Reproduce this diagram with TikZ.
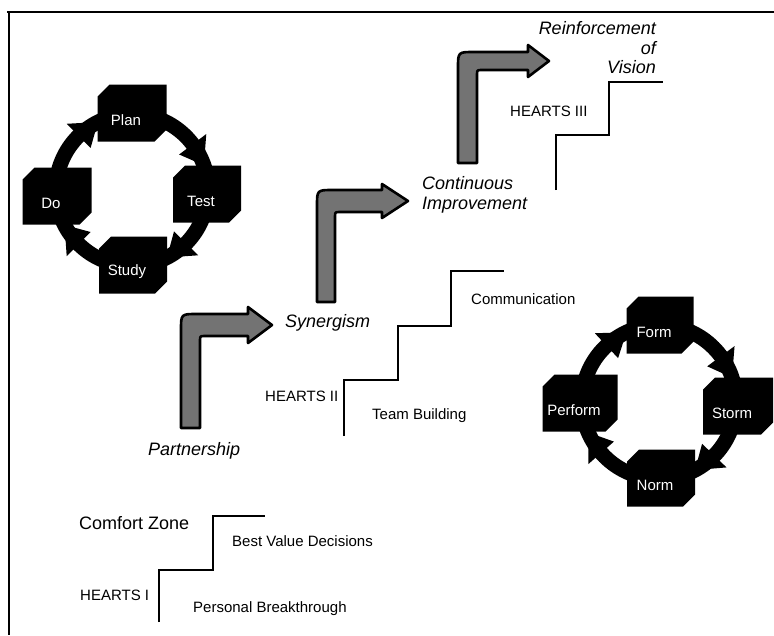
\documentclass[tikz,border=0pt]{standalone}
\usepackage{fontspec}
\setmainfont{Liberation Sans}
\usetikzlibrary{calc}
\newcommand\lblfont{\fontsize{15}{18}\selectfont}
\newcommand\bigfont{\fontsize{18}{19.5}\selectfont}
\newcommand\ringhead[3]{%
  \fill[black] ($(#1)+({#2*cos(#3)},{#2*sin(#3)})$)
    -- ($(#1)+({(#2+17)*cos(#3-18)},{(#2+17)*sin(#3-18)})$)
    -- ($(#1)+({(#2-17)*cos(#3-18)},{(#2-17)*sin(#3-18)})$) -- cycle;}
\begin{document}
\begin{tikzpicture}[x=1pt,y=-1pt,
  lbl/.style={font=\lblfont, inner sep=0pt, anchor=west, text height=11pt, text depth=3pt},
  big/.style={font=\bigfont\itshape, inner sep=0pt},
  stair/.style={draw=black, line width=1.6pt},
  ring/.style={draw=black, line width=15pt},
  frameline/.style={draw=black, line width=2.8pt},
  celltext/.style={text=white, font=\lblfont, xshift=-6pt, yshift=-7pt, inner sep=0pt},
  cyc/.style 2 args={rectangle, inner sep=0pt, minimum width=#1pt, minimum height=57pt,
    label={[celltext]center:#2},
    path picture={\fill[black] ([xshift=12pt]path picture bounding box.north west)
      -- (path picture bounding box.north east)
      -- ([yshift=12pt]path picture bounding box.south east)
      -- ([xshift=-12pt]path picture bounding box.south east)
      -- (path picture bounding box.south west)
      -- ([yshift=-12pt]path picture bounding box.north west) -- cycle;}},
  larrow/.style={fill=black!55, draw=black, line width=2.6pt, line join=round}
]
\useasboundingbox (0,0) rectangle (774,635);
\fill[white] (0,0) rectangle (774,635);

% frame
\coordinate (ftl) at (9,12);
\coordinate (ftr) at (774,12);
\coordinate (fbl) at (9,635);
\draw[frameline] (7,12) -- (ftr);
\draw[frameline, line width=2.2pt] (ftl) -- (fbl);

% PDSA cycle
\coordinate (c1) at (132,190);
\draw[ring] (c1) circle[radius=76pt];
\ringhead{c1}{76}{-19}
\ringhead{c1}{76}{62.6}
\ringhead{c1}{76}{152.6}
\ringhead{c1}{76}{243.4}
\node[cyc={69}{Plan}] (plan) at (132,113) {};
\node[cyc={68}{Test}] (test) at (207,194) {};
\node[cyc={68}{Study}] (study) at (133,265) {};
\node[cyc={69}{Do}] (do) at (57,196) {};

% Form-Storm-Norm-Perform cycle
\coordinate (c2) at (659,402);
\draw[ring] (c2) circle[radius=77pt];
\ringhead{c2}{77}{-18.5}
\ringhead{c2}{77}{62.1}
\ringhead{c2}{77}{156.7}
\ringhead{c2}{77}{245}
\node[cyc={67}{Form}] (form) at (660,325) {};
\node[cyc={70}{Storm}] (storm) at (738,406) {};
\node[cyc={68}{Norm}] (norm) at (661,478) {};
\node[cyc={75}{Perform}] (perform) at (580,403) {};

% bent arrows
\draw[larrow] (200,428) -- (200,341) .. controls (200,336) .. (205,336) -- (248,336)
  -- (248,343) -- (272,325) -- (248,307) -- (248,314) -- (197,314)
  .. controls (181,314) .. (181,330) -- (181,428) -- cycle;
\draw[larrow] (335,302) -- (335,217) .. controls (335,212) .. (340,212) -- (382,212)
  -- (382,218) -- (408,201) -- (382,184) -- (382,190) -- (333,190)
  .. controls (317,190) .. (317,206) -- (317,302) -- cycle;
\draw[larrow] (477,163) -- (477,75) .. controls (477,70) .. (482,70) -- (528,70)
  -- (528,77) -- (549,61) -- (528,45) -- (528,52) -- (474,52)
  .. controls (458,52) .. (458,68) -- (458,163) -- cycle;

% stairs
\draw[stair] (159,622) -- (159,570) -- (213,570) -- (213,516) -- (265,516);
\draw[stair] (344,436) -- (344,380) -- (398,380) -- (398,326) -- (451,326) -- (451,271) -- (504,271);
\draw[stair] (556,190) -- (556,135) -- (609,135) -- (609,82) -- (663,82);

% labels
\node[big, anchor=east, align=right] (reinf) at (656,48) {Reinforcement\\of\\Vision};
\node[lbl] (h3) at (510,112) {HEARTS III};
\node[big, anchor=west, align=left] (cont) at (422,195) {Continuous\\Improvement};
\node[big, anchor=west] (syn) at (285,323) {Synergism};
\node[lbl] (comm) at (471,300) {Communication};
\node[lbl] (h2) at (265,397) {HEARTS II};
\node[lbl] (team) at (372,415) {Team Building};
\node[big, anchor=west] (part) at (148,451) {Partnership};
\node[lbl, font=\bigfont] (comfort) at (79,525) {Comfort Zone};
\node[lbl] (bvd) at (232,542) {Best Value Decisions};
\node[lbl] (h1) at (80,596) {HEARTS I};
\node[lbl] (pb) at (193,608) {Personal Breakthrough};
\end{tikzpicture}
\end{document}
